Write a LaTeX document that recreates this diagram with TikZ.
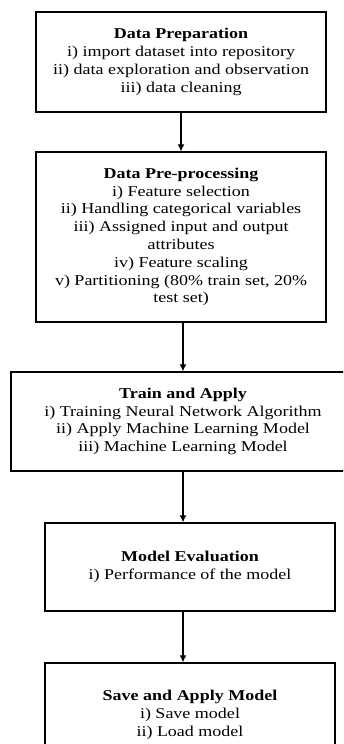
\documentclass[tikz,border=0pt]{standalone}
\usepackage{fontspec}
\setmainfont[FakeStretch=1.2]{Liberation Serif}
\usetikzlibrary{arrows.meta}

\begin{document}
\begin{tikzpicture}[x=1pt,y=-1pt,
  stage/.style={draw,rectangle,line width=1.4pt,align=center,inner sep=0pt,
    minimum width=290pt,font=\fontsize{15}{17.8}\selectfont}]
\clip (0,0) rectangle (343,744);
\node(prep)[stage,minimum height=100pt] at (181,62){\textbf{Data Preparation}\\
  i) import dataset into repository\\
  ii) data exploration and observation\\
  iii) data cleaning};
\node(prepro)[stage,minimum height=170pt] at (181,237){\textbf{Data Pre-processing}\\
  i) Feature selection\\
  ii) Handling categorical variables\\
  iii) Assigned input and output\\
  attributes\\
  iv) Feature scaling\\
  v) Partitioning (80\% train set, 20\%\\
  test set)};
\node(train)[stage,minimum width=344pt,minimum height=99pt] at (183,421.5){\textbf{Train and Apply}\\
  i) Training Neural Network Algorithm\\
  ii) Apply Machine Learning Model\\
  iii) Machine Learning Model};
\node(eval)[stage,minimum height=88pt] at (190,567){\textbf{Model Evaluation}\\
  i) Performance of the model};
\node(save)[stage,minimum height=104pt] at (190,715){\textbf{Save and Apply Model}\\
  i) Save model\\
  ii) Load model};
\path[draw,line width=1.2pt,-{Latex[length=7pt,width=7pt]}] (prep) -- (prepro);
\path[draw,line width=1.2pt,-{Latex[length=7pt,width=7pt]}] (train.north |- prepro.south) -- (train.north);
\path[draw,line width=1.2pt,-{Latex[length=7pt,width=7pt]}] (train.south) -- (train.south |- eval.north);
\path[draw,line width=1.2pt,-{Latex[length=7pt,width=7pt]}] (eval.south -| train.south) -- (save.north -| train.south);
\end{tikzpicture}
\end{document}
